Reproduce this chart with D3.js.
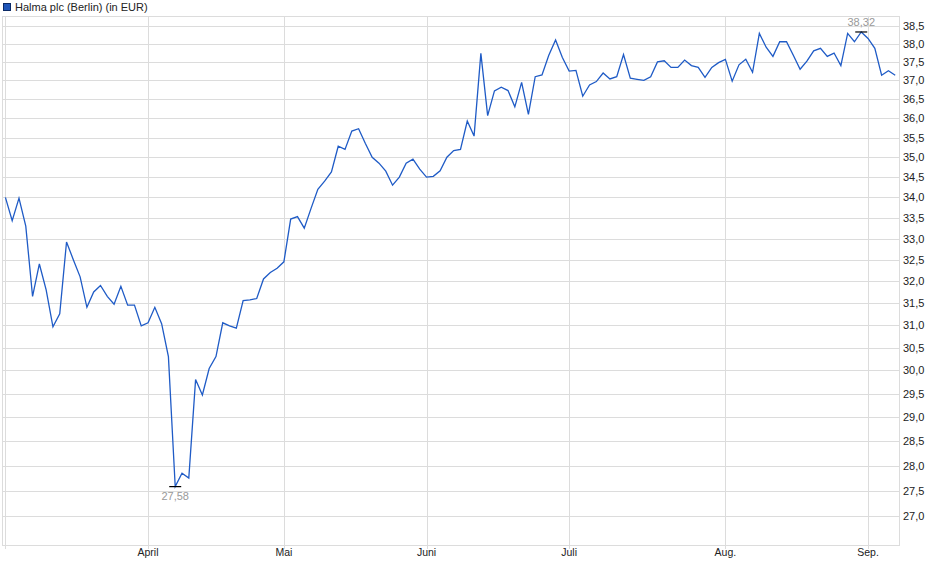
<html>
<head>
    <script src="https://d3js.org/d3.v7.min.js"></script>
    <style>
        body { margin: 0; background: #fff; }
        text { font-family: "Liberation Sans", Arial, sans-serif; }
        .grid line { stroke: #dcdcdc; stroke-width: 1px; shape-rendering: crispEdges; }
    </style>
</head>
<body>
<svg id="chart" width="940" height="579"></svg>
<script>
    // closing prices, one per trading day (Berlin), March - early Sept.
    const prices = [
        34.0, 33.43, 33.98, 33.3, 31.65, 32.4, 31.8, 30.96, 31.25, 32.92,
        32.5, 32.1, 31.4, 31.75, 31.9, 31.65, 31.47, 31.88, 31.45, 31.45,
        30.98, 31.05, 31.4, 31.03, 30.3, 27.58, 27.85, 27.75, 29.8, 29.47,
        30.04, 30.3, 31.05, 30.98, 30.93, 31.55, 31.57, 31.6, 32.05, 32.2,
        32.3, 32.45, 33.47, 33.53, 33.25, 33.73, 34.2, 34.4, 34.63, 35.28,
        35.2, 35.67, 35.73, 35.35, 35.0, 34.85, 34.65, 34.3, 34.5, 34.85,
        34.95, 34.7, 34.5, 34.52, 34.66, 35.0, 35.17, 35.2, 35.93, 35.54,
        37.73, 36.07, 36.72, 36.82, 36.73, 36.3, 36.95, 36.1, 37.1, 37.15,
        37.68, 38.1, 37.62, 37.25, 37.27, 36.58, 36.88, 36.97, 37.2, 37.04,
        37.1, 37.7, 37.06, 37.03, 37.0, 37.1, 37.5, 37.53, 37.35, 37.35,
        37.55, 37.4, 37.35, 37.08, 37.35, 37.48, 37.57, 36.98, 37.42, 37.57,
        37.22, 38.28, 37.9, 37.65, 38.05, 38.05, 37.68, 37.3, 37.52, 37.8,
        37.87, 37.65, 37.74, 37.4, 38.28, 38.05, 38.32, 38.14, 37.87, 37.14,
        37.26, 37.14
    ];

    // month starts (trading-day index) and their labels
    const monthIndex = [21, 41, 62, 83, 106, 127];
    const monthLabels = ["April", "Mai", "Juni", "Juli", "Aug.", "Sep."];

    const yTicks = [27.0, 27.5, 28.0, 28.5, 29.0, 29.5, 30.0, 30.5, 31.0, 31.5,
        32.0, 32.5, 33.0, 33.5, 34.0, 34.5, 35.0, 35.5, 36.0, 36.5, 37.0, 37.5, 38.0, 38.5];

    const seriesName = "Halma plc (Berlin) (in EUR)";

    const svg = d3.select("#chart");
    const plot = { left: 2, right: 898.5, top: 16.5, bottom: 545.5 };

    const de = d3.formatLocale({ decimal: ",", thousands: ".", grouping: [3], currency: ["", " €"] });
    const fmt1 = de.format(".1f");
    const fmt2 = de.format(".2f");

    const x = d3.scaleLinear().domain([0, prices.length - 1]).range([5.4, 895.2]);
    const y = d3.scaleLog().domain([27, 38.5]).range([516, 25.5]);

    // gridlines
    const grid = svg.append("g").attr("class", "grid");
    grid.selectAll("line.h").data(yTicks)
        .join("line").attr("class", "h")
        .attr("x1", plot.left).attr("x2", plot.right)
        .attr("y1", d => Math.round(y(d)) + 0.5).attr("y2", d => Math.round(y(d)) + 0.5);

    grid.selectAll("line.v").data([0].concat(monthIndex))
        .join("line").attr("class", "v")
        .attr("x1", d => Math.round(x(d)) + 0.5).attr("x2", d => Math.round(x(d)) + 0.5)
        .attr("y1", plot.top).attr("y2", plot.bottom + 3);

    // plot frame
    grid.append("rect")
        .attr("x", plot.left + 0.5).attr("y", plot.top)
        .attr("width", plot.right - plot.left).attr("height", plot.bottom - plot.top)
        .attr("fill", "none").attr("stroke", "#dcdcdc").attr("shape-rendering", "crispEdges");

    // right axis labels
    svg.append("g").selectAll("text").data(yTicks)
        .join("text")
        .attr("x", 903)
        .attr("y", d => y(d) + 4)
        .attr("font-size", 11)
        .attr("fill", "#222")
        .text(d => fmt1(d));

    // month labels
    svg.append("g").selectAll("text").data(monthIndex)
        .join("text")
        .attr("x", d => x(d))
        .attr("y", 556)
        .attr("text-anchor", "middle")
        .attr("font-size", 10.5)
        .attr("fill", "#222")
        .text((d, i) => monthLabels[i]);

    // price line
    const line = d3.line().x((d, i) => x(i)).y(d => y(d));
    svg.append("path")
        .datum(prices)
        .attr("d", line)
        .attr("fill", "none")
        .attr("stroke", "#1f5bc6")
        .attr("stroke-width", 1.3)
        .attr("stroke-linejoin", "miter");

    // min / max markers
    const minV = d3.min(prices), maxV = d3.max(prices);
    const minI = prices.indexOf(minV), maxI = prices.indexOf(maxV);
    const marks = svg.append("g");
    [[minI, minV, 13], [maxI, maxV, -6]].forEach(([i, v, dy]) => {
        marks.append("line")
            .attr("x1", x(i) - 6).attr("x2", x(i) + 6)
            .attr("y1", y(v)).attr("y2", y(v))
            .attr("stroke", "#000").attr("stroke-width", 1.2);
        marks.append("text")
            .attr("x", x(i))
            .attr("y", y(v) + dy)
            .attr("text-anchor", "middle")
            .attr("font-size", 11)
            .attr("fill", "#999")
            .text(fmt2(v));
    });

    // legend
    svg.append("rect")
        .attr("x", 3.5).attr("y", 3.5).attr("width", 7).attr("height", 7)
        .attr("fill", "#1f55b8").attr("stroke", "#0b2a66");
    svg.append("text")
        .attr("x", 15).attr("y", 11)
        .attr("font-size", 11)
        .attr("fill", "#222")
        .text(seriesName);
</script>
</body>
</html>
